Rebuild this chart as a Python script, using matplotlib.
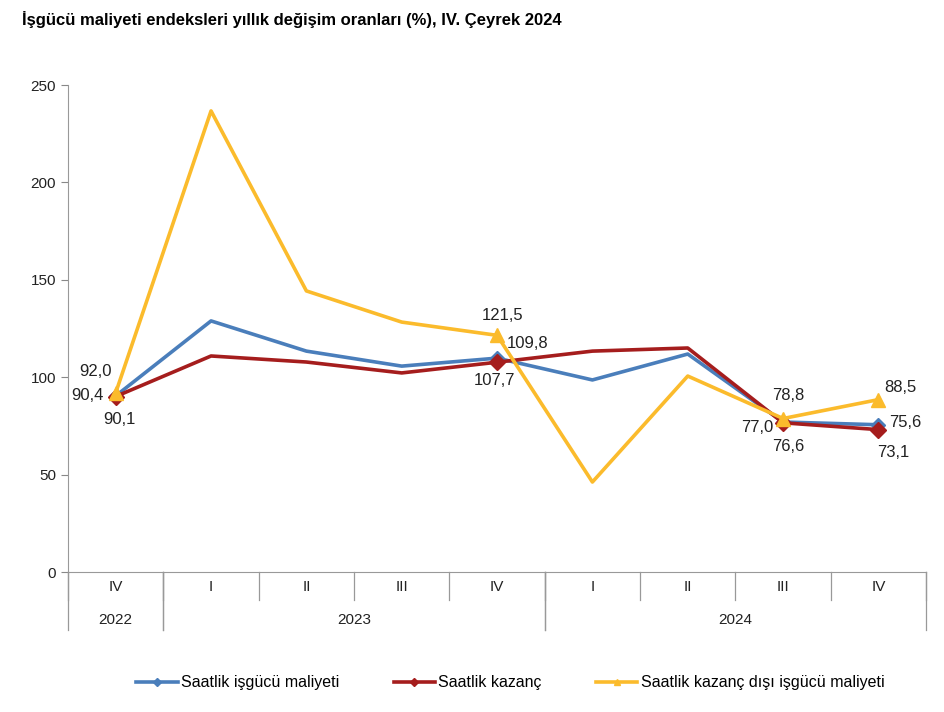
import matplotlib
matplotlib.use("Agg")

import matplotlib.pyplot as plt
from matplotlib.lines import Line2D

plt.rcParams["font.family"] = ["Liberation Sans", "DejaVu Sans"]

quarters = ["IV", "I", "II", "III", "IV", "I", "II", "III", "IV"]
years = ["2022", "2023", "2024"]
year_spans = [(0, 0), (1, 4), (5, 8)]

hourly_cost = [90.4, 128.9, 113.4, 105.7, 109.8, 98.6, 111.9, 77.0, 75.6]
hourly_earn = [90.1, 110.9, 107.8, 102.2, 107.7, 113.4, 115.0, 76.6, 73.1]
non_earn = [92.0, 236.7, 144.3, 128.3, 121.5, 46.2, 100.6, 78.8, 88.5]

names = ["Saatlik işgücü maliyeti", "Saatlik kazanç", "Saatlik kazanç dışı işgücü maliyeti"]
colors = ["#4A7EBB", "#A51D1D", "#FBBB2C"]
markers = ["D", "D", "^"]
msizes = [7, 8, 10]

# labelled points and their text offsets (pixels)
label_idx = [0, 4, 7, 8]
offsets = [
    {0: (-12, 0, "right"), 4: (30, 15, "center"), 7: (-10, -5, "right"), 8: (27, 2, "center")},
    {0: (4, -23, "center"), 4: (-3, -18, "center"), 7: (5, -24, "center"), 8: (15, -23, "center")},
    {0: (-20, 21, "center"), 4: (5, 20, "center"), 7: (5, 23, "center"), 8: (22, 12, "center")},
]

fig = plt.figure(figsize=(9.45, 7.12), dpi=100)
ax = fig.add_axes([0.072, 0.1966, 0.908, 0.684])

x = list(range(len(quarters)))
for k, series in enumerate([hourly_cost, hourly_earn, non_earn]):
    ax.plot(x, series, color=colors[k], lw=2.6, zorder=2 + k, solid_joinstyle="round")
    ax.plot([x[i] for i in label_idx], [series[i] for i in label_idx], ls="none",
            marker=markers[k], ms=msizes[k], color=colors[k], zorder=2 + k)
    for i in label_idx:
        dx, dy, ha = offsets[k][i]
        ax.annotate(f"{series[i]:.1f}".replace(".", ","), (x[i], series[i]),
                    xytext=(dx, dy), textcoords="offset pixels", ha=ha, va="center",
                    fontsize=12, color="#222222", zorder=10)

ax.set_xlim(-0.5, len(quarters) - 0.5)
ax.set_ylim(0, 250)
ax.set_yticks(range(0, 251, 50))
ax.tick_params(axis="y", labelsize=11, length=5, colors="#222222")
ax.tick_params(axis="y", color="#888888")
ax.set_xticks([])
for s in ["top", "right"]:
    ax.spines[s].set_visible(False)
for s in ["left", "bottom"]:
    ax.spines[s].set_color("#999999")

tr = ax.get_xaxis_transform()
for i, q in enumerate(quarters):
    ax.text(i, -0.031, q, transform=tr, ha="center", va="center", fontsize=11, color="#222222")
for b in range(len(quarters) + 1):
    ax.plot([b - 0.5, b - 0.5], [0, -0.0575], transform=tr, color="#999999", lw=0.9, clip_on=False)
for yr, (a, b) in zip(years, year_spans):
    ax.text((a + b) / 2, -0.099, yr, transform=tr, ha="center", va="center", fontsize=11, color="#222222")
    for e in (a - 0.5, b + 0.5):
        ax.plot([e, e], [0, -0.119], transform=tr, color="#999999", lw=0.9, clip_on=False)

fig.text(0.023, 0.973, "İşgücü maliyeti endeksleri yıllık değişim oranları (%), IV. Çeyrek 2024",
         fontsize=12, fontweight="bold", ha="left", va="center")

handles = [Line2D([], [], color=c, lw=2.6, marker=m, ms=4) for c, m in zip(colors, ["D", "D", "^"])]
fig.legend(handles, names, loc="center", bbox_to_anchor=(0.54, 0.041), ncol=3, frameon=False,
           fontsize=11.5, handlelength=2.6, handletextpad=0.2, columnspacing=3.4)

fig.savefig("out.png", dpi=100)
